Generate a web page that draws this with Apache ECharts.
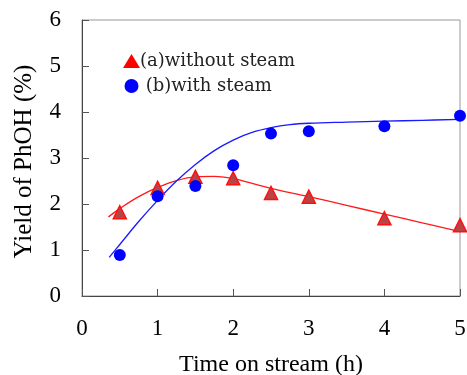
<!DOCTYPE html>
<html>
<head>
<meta charset="utf-8">
<script src="https://cdn.jsdelivr.net/npm/echarts@6/dist/echarts.min.js"></script>
<style>
html,body{margin:0;padding:0;background:#fff;}
#c{width:467px;height:375px;}
</style>
</head>
<body>
<div id="c"></div>
<script>
// Measured points
var timeA = [0.5, 1, 1.5, 2, 2.5, 3, 4, 5];
var yieldA = [1.82, 2.35, 2.59, 2.56, 2.24, 2.16, 1.69, 1.54];
var timeB = [0.5, 1, 1.5, 2, 2.5, 3, 4, 5];
var yieldB = [0.89, 2.17, 2.39, 2.84, 3.53, 3.58, 3.69, 3.92];
// Fitted curves
var fitAx = [0.35, 0.5, 0.75, 1.0, 1.25, 1.5, 1.75, 2.0, 2.25, 2.5, 3.0, 3.5, 4.0, 4.5, 5.0];
var fitAy = [1.72, 1.90, 2.16, 2.36, 2.51, 2.59, 2.60, 2.55, 2.45, 2.34, 2.16, 1.97, 1.78, 1.59, 1.40];
var fitBx = [0.36, 0.5, 0.75, 1.0, 1.25, 1.5, 1.75, 2.0, 2.25, 2.5, 2.75, 3.0, 3.5, 4.0, 4.5, 5.0];
var fitBy = [0.84, 1.12, 1.62, 2.08, 2.50, 2.86, 3.16, 3.39, 3.555, 3.66, 3.725, 3.755, 3.78, 3.80, 3.82, 3.84];
var xTicks = [0, 5, 1];
var yTicks = [0, 6, 1];
var nameA = '(a)without steam';
var nameB = ' (b)with steam';
var xTitle = 'Time on stream (h)';
var yTitle = 'Yield of PhOH (%)';

function zip(a, b){ return a.map(function(v,i){ return [v, b[i]]; }); }

var FONT = '"Liberation Serif", "Times New Roman", serif';
var LFONT = '"DejaVu Serif", "Liberation Serif", serif';
var chart = echarts.init(document.getElementById('c'), null, {renderer:'canvas'});
chart.setOption({
  animation: false,
  backgroundColor: '#fff',
  grid: {left: 82, right: 7, top: 20, bottom: 79, show: true, borderColor: '#999', borderWidth: 1,
         outerBoundsMode: 'none', containLabel: false},
  legend: {
    orient: 'vertical', left: 118, top: 46, itemWidth: 17, itemHeight: 14, itemGap: 5,
    textStyle: {fontFamily: LFONT, fontSize: 18, lineHeight: 20, color: '#222', padding: [0, 0, 0, -5]},
    data: [
      {name: nameA, icon: 'triangle', itemStyle: {color: '#ff0000', borderWidth: 0}},
      {name: nameB, icon: 'circle', itemStyle: {color: '#0000ff', borderWidth: 0}}
    ]
  },
  xAxis: {
    type: 'value', min: xTicks[0], max: xTicks[1], interval: xTicks[2], position: 'bottom',
    name: xTitle, nameLocation: 'middle', nameGap: 57,
    nameTextStyle: {fontFamily: FONT, fontSize: 24, color: '#000'},
    axisLine: {show: true, onZero: false, lineStyle: {color: '#444', width: 1}},
    axisTick: {show: true, inside: true, length: 7, lineStyle: {color: '#555', width: 1}},
    axisLabel: {fontFamily: FONT, fontSize: 23, color: '#000', margin: 21},
    splitLine: {show: false}
  },
  yAxis: {
    type: 'value', min: yTicks[0], max: yTicks[1], interval: yTicks[2], position: 'left',
    name: yTitle, nameLocation: 'middle', nameGap: 45, nameRotate: 90,
    nameTextStyle: {fontFamily: FONT, fontSize: 25, color: '#000', padding: [0, 7, 0, 0]},
    axisLine: {show: true, onZero: false, lineStyle: {color: '#444', width: 1}},
    axisTick: {show: true, inside: true, length: 7, lineStyle: {color: '#555', width: 1}},
    axisLabel: {fontFamily: FONT, fontSize: 23, color: '#000', margin: 21},
    splitLine: {show: false}
  },
  series: [
    {name: 'fitA', type: 'line', data: zip(fitAx, fitAy), smooth: 0.4, showSymbol: false,
     lineStyle: {color: '#ff1a1a', width: 1.3}, z: 2, silent: true},
    {name: 'fitB', type: 'line', data: zip(fitBx, fitBy), smooth: 0.4, showSymbol: false,
     lineStyle: {color: '#1a1aff', width: 1.3}, z: 2, silent: true},
    {name: nameA, type: 'scatter', data: zip(timeA, yieldA), symbol: 'triangle', symbolSize: 13,
     itemStyle: {color: '#b84545', borderColor: '#ff1010', borderWidth: 1.5, opacity: 1}, z: 3},
    {name: nameB, type: 'scatter', data: zip(timeB, yieldB), symbol: 'circle', symbolSize: 12,
     itemStyle: {color: '#0000ff', opacity: 1}, z: 3}
  ]
});
</script>
</body>
</html>
